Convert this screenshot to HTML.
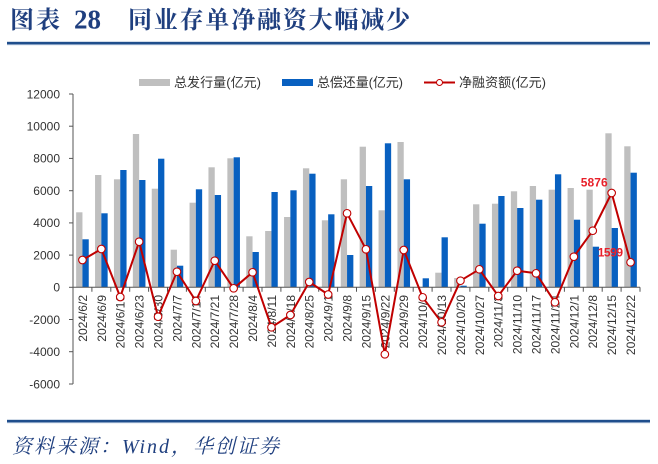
<!DOCTYPE html>
<html><head><meta charset="utf-8"><style>
html,body{margin:0;padding:0;background:#fff;}
svg{display:block;}
</style></head><body>
<svg width="658" height="464" viewBox="0 0 658 464" xmlns="http://www.w3.org/2000/svg">
<rect width="658" height="464" fill="#fff"/>
<!-- Title -->
<text x="10" y="28" font-family="'Noto Serif CJK SC','Noto Sans CJK SC',serif" font-weight="bold" font-size="24" fill="#1f3f7f" textLength="50">图表</text>
<text x="74" y="28.5" font-family="'Liberation Serif',serif" font-weight="bold" font-size="27" fill="#1f3f7f" textLength="27">28</text>
<text x="128" y="28" font-family="'Noto Serif CJK SC','Noto Sans CJK SC',serif" font-weight="bold" font-size="24" fill="#1f3f7f" textLength="282">同业存单净融资大幅减少</text>
<rect x="7" y="41.8" width="643" height="2.6" fill="#1f4e8c"/>
<rect x="7" y="44.4" width="643" height="0.8" fill="#a9bcd8"/>

<!-- Legend -->
<rect x="139" y="79" width="31" height="7" fill="#bfbfbf"/>
<text x="174" y="87" font-family="'Liberation Sans','Noto Sans CJK SC',sans-serif" font-size="13" fill="#333" textLength="87">总发行量(亿元)</text>
<rect x="282" y="79" width="31" height="7" fill="#0860c0"/>
<text x="317" y="87" font-family="'Liberation Sans','Noto Sans CJK SC',sans-serif" font-size="13" fill="#333" textLength="86">总偿还量(亿元)</text>
<line x1="424" y1="82.5" x2="455" y2="82.5" stroke="#c00000" stroke-width="2"/>
<circle cx="439.5" cy="82.5" r="3" fill="#fff" stroke="#c00000" stroke-width="1"/>
<text x="459" y="87" font-family="'Liberation Sans','Noto Sans CJK SC',sans-serif" font-size="13" fill="#333" textLength="87">净融资额(亿元)</text>

<!-- Y axis labels -->
<g font-family="'Liberation Sans',sans-serif" font-size="12" fill="#333" text-anchor="end">
<text x="60" y="98.3">12000</text>
<text x="60" y="130.5">10000</text>
<text x="60" y="162.7">8000</text>
<text x="60" y="195">6000</text>
<text x="60" y="227.2">4000</text>
<text x="60" y="259.4">2000</text>
<text x="60" y="291.6">0</text>
<text x="60" y="323.8">-2000</text>
<text x="60" y="356">-4000</text>
<text x="60" y="388.3">-6000</text>
</g>

<!-- Bars gray -->
<g fill="#bfbfbf">
<rect x="76.15" y="212.3" width="6.3" height="75"/>
<rect x="95.05" y="175" width="6.3" height="112.3"/>
<rect x="113.95" y="179.3" width="6.3" height="108"/>
<rect x="132.85" y="134" width="6.3" height="153.3"/>
<rect x="151.75" y="188.7" width="6.3" height="98.6"/>
<rect x="170.65" y="249.7" width="6.3" height="37.6"/>
<rect x="189.55" y="202.7" width="6.3" height="84.6"/>
<rect x="208.45" y="167.3" width="6.3" height="120"/>
<rect x="227.35" y="158.3" width="6.3" height="129"/>
<rect x="246.25" y="236.3" width="6.3" height="51"/>
<rect x="265.15" y="231" width="6.3" height="56.3"/>
<rect x="284.05" y="217" width="6.3" height="70.3"/>
<rect x="302.95" y="168.3" width="6.3" height="119"/>
<rect x="321.85" y="220.3" width="6.3" height="67"/>
<rect x="340.75" y="179.3" width="6.3" height="108"/>
<rect x="359.65" y="146.7" width="6.3" height="140.6"/>
<rect x="378.55" y="210.3" width="6.3" height="77"/>
<rect x="397.45" y="142" width="6.3" height="145.3"/>
<rect x="435.25" y="272.7" width="6.3" height="14.6"/>
<rect x="454.15" y="278" width="6.3" height="9.3"/>
<rect x="473.05" y="204.3" width="6.3" height="83"/>
<rect x="491.95" y="203.7" width="6.3" height="83.6"/>
<rect x="510.85" y="191.3" width="6.3" height="96"/>
<rect x="529.75" y="186" width="6.3" height="101.3"/>
<rect x="548.65" y="189.7" width="6.3" height="97.6"/>
<rect x="567.55" y="188" width="6.3" height="99.3"/>
<rect x="586.45" y="189.7" width="6.3" height="97.6"/>
<rect x="605.35" y="133.3" width="6.3" height="154"/>
<rect x="624.25" y="146.3" width="6.3" height="141"/>
</g>
<!-- Bars blue -->
<g fill="#0860c0">
<rect x="82.45" y="239.3" width="6.3" height="48"/>
<rect x="101.35" y="213.3" width="6.3" height="74"/>
<rect x="120.25" y="170" width="6.3" height="117.3"/>
<rect x="139.15" y="180" width="6.3" height="107.3"/>
<rect x="158.05" y="158.7" width="6.3" height="128.6"/>
<rect x="176.95" y="265.7" width="6.3" height="21.6"/>
<rect x="195.85" y="189.3" width="6.3" height="98"/>
<rect x="214.75" y="195" width="6.3" height="92.3"/>
<rect x="233.65" y="157.3" width="6.3" height="130"/>
<rect x="252.55" y="252" width="6.3" height="35.3"/>
<rect x="271.45" y="192" width="6.3" height="95.3"/>
<rect x="290.35" y="190.3" width="6.3" height="97"/>
<rect x="309.25" y="173.7" width="6.3" height="113.6"/>
<rect x="328.15" y="214.3" width="6.3" height="73"/>
<rect x="347.05" y="255" width="6.3" height="32.3"/>
<rect x="365.95" y="186" width="6.3" height="101.3"/>
<rect x="384.85" y="143.3" width="6.3" height="144"/>
<rect x="403.75" y="179.3" width="6.3" height="108"/>
<rect x="422.65" y="278.3" width="6.3" height="9"/>
<rect x="441.55" y="237.3" width="6.3" height="50"/>
<rect x="460.45" y="285.7" width="6.3" height="1.6"/>
<rect x="479.35" y="223.7" width="6.3" height="63.6"/>
<rect x="498.25" y="196" width="6.3" height="91.3"/>
<rect x="517.15" y="208" width="6.3" height="79.3"/>
<rect x="536.05" y="199.7" width="6.3" height="87.6"/>
<rect x="554.95" y="174.3" width="6.3" height="113"/>
<rect x="573.85" y="219.7" width="6.3" height="67.6"/>
<rect x="592.75" y="246.7" width="6.3" height="40.6"/>
<rect x="611.65" y="228" width="6.3" height="59.3"/>
<rect x="630.55" y="172.7" width="6.3" height="114.6"/>
</g>

<!-- Axes -->
<g stroke="#555" stroke-width="1" fill="none">
<line x1="73" y1="94" x2="73" y2="384"/>
<line x1="69" y1="94" x2="73" y2="94"/>
<line x1="69" y1="126.2" x2="73" y2="126.2"/>
<line x1="69" y1="158.4" x2="73" y2="158.4"/>
<line x1="69" y1="190.7" x2="73" y2="190.7"/>
<line x1="69" y1="222.9" x2="73" y2="222.9"/>
<line x1="69" y1="255.1" x2="73" y2="255.1"/>
<line x1="69" y1="287.3" x2="73" y2="287.3"/>
<line x1="69" y1="319.5" x2="73" y2="319.5"/>
<line x1="69" y1="351.7" x2="73" y2="351.7"/>
<line x1="69" y1="384" x2="73" y2="384"/>
<line x1="73" y1="287.3" x2="640" y2="287.3"/>
<path d="M73 287.3v4.5M91.9 287.3v4.5M110.8 287.3v4.5M129.7 287.3v4.5M148.6 287.3v4.5M167.5 287.3v4.5M186.4 287.3v4.5M205.3 287.3v4.5M224.2 287.3v4.5M243.1 287.3v4.5M262 287.3v4.5M280.9 287.3v4.5M299.8 287.3v4.5M318.7 287.3v4.5M337.6 287.3v4.5M356.5 287.3v4.5M375.4 287.3v4.5M394.3 287.3v4.5M413.2 287.3v4.5M432.1 287.3v4.5M451 287.3v4.5M469.9 287.3v4.5M488.8 287.3v4.5M507.7 287.3v4.5M526.6 287.3v4.5M545.5 287.3v4.5M564.4 287.3v4.5M583.3 287.3v4.5M602.2 287.3v4.5M621.1 287.3v4.5M640 287.3v4.5"/>
</g>

<!-- X labels -->
<g font-family="'Liberation Sans',sans-serif" font-size="12" fill="#333" text-anchor="end">
<text transform="translate(86.9,295) rotate(-90)">2024/6/2</text>
<text transform="translate(105.8,295) rotate(-90)">2024/6/9</text>
<text transform="translate(124.7,295) rotate(-90)">2024/6/16</text>
<text transform="translate(143.6,295) rotate(-90)">2024/6/23</text>
<text transform="translate(162.5,295) rotate(-90)">2024/6/30</text>
<text transform="translate(181.4,295) rotate(-90)">2024/7/7</text>
<text transform="translate(200.3,295) rotate(-90)">2024/7/14</text>
<text transform="translate(219.2,295) rotate(-90)">2024/7/21</text>
<text transform="translate(238.1,295) rotate(-90)">2024/7/28</text>
<text transform="translate(257,295) rotate(-90)">2024/8/4</text>
<text transform="translate(275.9,295) rotate(-90)">2024/8/11</text>
<text transform="translate(294.8,295) rotate(-90)">2024/8/18</text>
<text transform="translate(313.7,295) rotate(-90)">2024/8/25</text>
<text transform="translate(332.6,295) rotate(-90)">2024/9/1</text>
<text transform="translate(351.5,295) rotate(-90)">2024/9/8</text>
<text transform="translate(370.4,295) rotate(-90)">2024/9/15</text>
<text transform="translate(389.3,295) rotate(-90)">2024/9/22</text>
<text transform="translate(408.2,295) rotate(-90)">2024/9/29</text>
<text transform="translate(427.1,295) rotate(-90)">2024/10/6</text>
<text transform="translate(446,295) rotate(-90)">2024/10/13</text>
<text transform="translate(464.9,295) rotate(-90)">2024/10/20</text>
<text transform="translate(483.8,295) rotate(-90)">2024/10/27</text>
<text transform="translate(502.7,295) rotate(-90)">2024/11/3</text>
<text transform="translate(521.6,295) rotate(-90)">2024/11/10</text>
<text transform="translate(540.5,295) rotate(-90)">2024/11/17</text>
<text transform="translate(559.4,295) rotate(-90)">2024/11/24</text>
<text transform="translate(578.3,295) rotate(-90)">2024/12/1</text>
<text transform="translate(597.2,295) rotate(-90)">2024/12/8</text>
<text transform="translate(616.1,295) rotate(-90)">2024/12/15</text>
<text transform="translate(635,295) rotate(-90)">2024/12/22</text>
</g>

<!-- Net line -->
<polyline fill="none" stroke="#c00000" stroke-width="2" stroke-linejoin="round" points="82.45,260 101.35,249 120.25,297 139.15,241.7 158.05,316.7 176.95,271.7 195.85,301 214.75,260.7 233.65,288.3 252.55,272.3 271.45,327.3 290.35,315 309.25,282 328.15,294.5 347.05,213.3 365.95,249.3 384.85,354.3 403.75,250 422.65,297.3 441.55,322.3 460.45,280.7 479.35,269.3 498.25,296 517.15,270.7 536.05,273.3 554.95,302.3 573.85,256.7 592.75,230.7 611.65,193 630.55,262.3"/>
<g fill="#fff" stroke="#c00000" stroke-width="1.1">
<circle cx="82.45" cy="260" r="3.8"/>
<circle cx="101.35" cy="249" r="3.8"/>
<circle cx="120.25" cy="297" r="3.8"/>
<circle cx="139.15" cy="241.7" r="3.8"/>
<circle cx="158.05" cy="316.7" r="3.8"/>
<circle cx="176.95" cy="271.7" r="3.8"/>
<circle cx="195.85" cy="301" r="3.8"/>
<circle cx="214.75" cy="260.7" r="3.8"/>
<circle cx="233.65" cy="288.3" r="3.8"/>
<circle cx="252.55" cy="272.3" r="3.8"/>
<circle cx="271.45" cy="327.3" r="3.8"/>
<circle cx="290.35" cy="315" r="3.8"/>
<circle cx="309.25" cy="282" r="3.8"/>
<circle cx="328.15" cy="294.5" r="3.8"/>
<circle cx="347.05" cy="213.3" r="3.8"/>
<circle cx="365.95" cy="249.3" r="3.8"/>
<circle cx="384.85" cy="354.3" r="3.8"/>
<circle cx="403.75" cy="250" r="3.8"/>
<circle cx="422.65" cy="297.3" r="3.8"/>
<circle cx="441.55" cy="322.3" r="3.8"/>
<circle cx="460.45" cy="280.7" r="3.8"/>
<circle cx="479.35" cy="269.3" r="3.8"/>
<circle cx="498.25" cy="296" r="3.8"/>
<circle cx="517.15" cy="270.7" r="3.8"/>
<circle cx="536.05" cy="273.3" r="3.8"/>
<circle cx="554.95" cy="302.3" r="3.8"/>
<circle cx="573.85" cy="256.7" r="3.8"/>
<circle cx="592.75" cy="230.7" r="3.8"/>
<circle cx="611.65" cy="193" r="3.8"/>
<circle cx="630.55" cy="262.3" r="3.8"/>
</g>
<g font-family="'Liberation Sans',sans-serif" font-size="12" font-weight="bold" fill="#e8202a">
<text x="580.7" y="186.7" textLength="27">5876</text>
<text x="597.7" y="256.7" textLength="25.3">1599</text>
</g>

<!-- Bottom -->
<rect x="7" y="419.8" width="643" height="2.6" fill="#1f4e8c"/>
<rect x="7" y="422.4" width="643" height="0.8" fill="#a9bcd8"/>
<text x="12" y="453" font-family="'Liberation Serif','Noto Serif CJK SC',serif" font-style="italic" font-size="20" fill="#1f3f7f" textLength="267">资料来源：Wind，华创证券</text>
</svg>
</body></html>
